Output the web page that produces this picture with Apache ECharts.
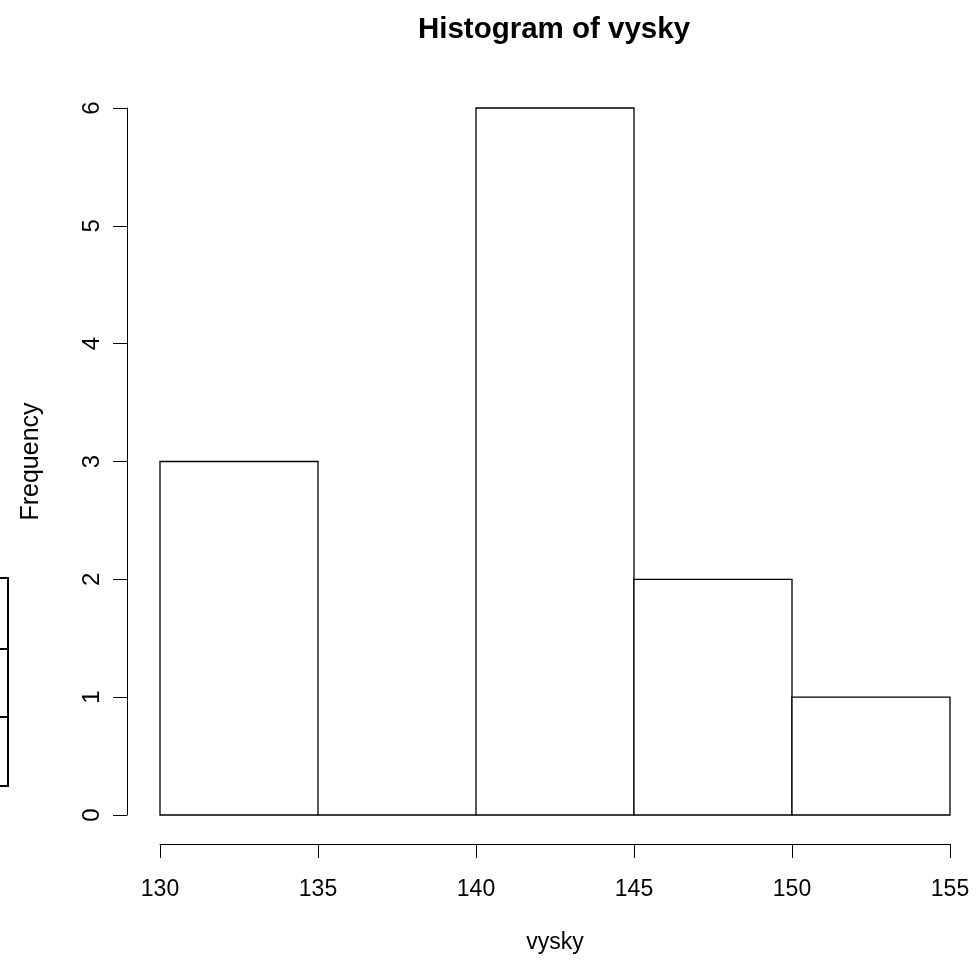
<!DOCTYPE html>
<html>
<head>
<meta charset="utf-8">
<script src="https://cdn.jsdelivr.net/npm/echarts@6/dist/echarts.min.js"></script>
<style>html,body{margin:0;padding:0;background:#fff}#c{width:980px;height:961px}</style>
</head>
<body>
<div id="c"></div>
<script>
const binStarts = [130, 135, 140, 145, 150];
const binEnds = [135, 140, 145, 150, 155];
const counts = [3, 0, 6, 2, 1];
const xTicks = [130, 135, 140, 145, 150, 155];
const yTicks = [0, 1, 2, 3, 4, 5, 6];

const FONT = 'Liberation Sans, Arial, sans-serif';
const chart = echarts.init(document.getElementById('c'), null, {renderer: 'canvas'});
const data = binStarts.map((s, i) => [s, binEnds[i], counts[i]]);

chart.setOption({
  animation: false,
  backgroundColor: '#fff',
  title: {
    text: 'Histogram of vysky',
    left: 549, top: 10, textAlign: 'center',
    textStyle: {fontFamily: FONT, fontWeight: 'bold', fontSize: 29.5, color: '#000'}
  },
  grid: {left: 160, right: 30, top: 108, bottom: 146, containLabel: false, outerBoundsMode: 'none'},
  xAxis: {
    type: 'value', min: 130, max: 155, interval: 5,
    offset: 29,
    name: 'vysky', nameLocation: 'middle', nameGap: 87,
    nameTextStyle: {fontFamily: FONT, fontSize: 23, color: '#000'},
    axisLine: {show: true, onZero: false, lineStyle: {color: '#000', width: 1}},
    axisTick: {show: true, length: 14, lineStyle: {color: '#000', width: 1}},
    axisLabel: {fontFamily: FONT, fontSize: 23, color: '#000', margin: 34},
    splitLine: {show: false}
  },
  yAxis: {
    type: 'value', min: 0, max: 6, interval: 1,
    offset: 33,
    name: 'Frequency', nameLocation: 'middle', nameGap: 83, nameRotate: 90,
    nameTextStyle: {fontFamily: FONT, fontSize: 25, color: '#000'},
    axisLine: {show: true, onZero: false, lineStyle: {color: '#000', width: 1}},
    axisTick: {show: true, length: 14, lineStyle: {color: '#000', width: 1}},
    axisLabel: {fontFamily: FONT, fontSize: 24, color: '#000', margin: 23, rotate: 90},
    splitLine: {show: false}
  },
  graphic: [
    {type: 'rect', shape: {x: -2, y: 578, width: 10, height: 208}, style: {fill: 'none', stroke: '#000', lineWidth: 2}},
    {type: 'line', shape: {x1: 0, y1: 649, x2: 8, y2: 649}, style: {stroke: '#000', lineWidth: 2}},
    {type: 'line', shape: {x1: 0, y1: 717, x2: 8, y2: 717}, style: {stroke: '#000', lineWidth: 2}}
  ],
  series: [{
    type: 'custom',
    data: data,
    renderItem: function (params, api) {
      const p0 = api.coord([api.value(0), 0]);
      const p1 = api.coord([api.value(1), api.value(2)]);
      return {
        type: 'rect',
        shape: {x: p0[0], y: p1[1], width: p1[0] - p0[0], height: p0[1] - p1[1]},
        style: {fill: '#fff', stroke: '#000', lineWidth: 1.3}
      };
    },
    encode: {x: [0, 1], y: 2}
  }]
});
</script>
</body>
</html>
